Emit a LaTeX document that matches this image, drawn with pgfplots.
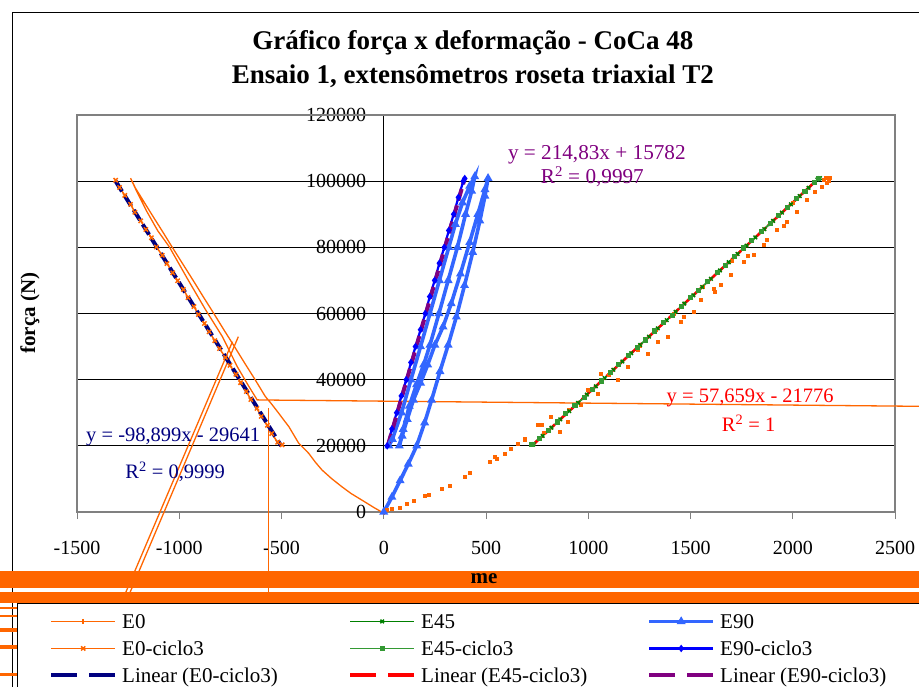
\documentclass[border=0pt]{standalone}
\usepackage{pgfplots}
\pgfplotsset{compat=1.18}
\usepackage{fontspec}
\setmainfont{Liberation Serif}

\definecolor{exorange}{RGB}{255,102,0}
\definecolor{exgreen}{RGB}{0,128,0}
\definecolor{exgreenb}{RGB}{51,153,51}
\definecolor{exlblue}{RGB}{51,102,255}
\definecolor{exblue}{RGB}{0,0,255}
\definecolor{exnavy}{RGB}{0,0,128}
\definecolor{expurple}{RGB}{128,0,128}
\definecolor{exred}{RGB}{255,0,0}
\definecolor{exgray}{RGB}{128,128,128}

\newcommand\legent[1]{\makebox[200pt][l]{\rmfamily\rule[-5pt]{0pt}{20pt}#1}}
\newcommand\eqfont{\rmfamily\fontsize{20.5}{22}\selectfont}
\pgfplotsset{trendleg/.style={legend image code/.code={\draw[##1, line width=4pt, dash pattern=on 26pt off 12pt] (0pt,0pt) -- (64pt,0pt);}}}

\begin{document}
\begin{tikzpicture}
\useasboundingbox (0pt,0pt) rectangle (919pt,-686pt);
\clip (0pt,0pt) rectangle (919pt,-686pt);
\fill[white] (0pt,0pt) rectangle (919pt,-686pt);
\draw[black, line width=1pt] (12pt,-12pt) rectangle (960pt,-720pt);
\begin{axis}[
  at={(77pt,-512pt)}, anchor=south west,
  width=818pt, height=397pt, scale only axis,
  xmin=-1500, xmax=2500, ymin=0, ymax=120000,
  clip=false,
  axis x line*=bottom, axis y line*=middle,
  x axis line style={exgray, line width=1.2pt},
  y axis line style={black, line width=1pt},
  xtick={-1500,-1000,-500,0,500,1000,1500,2000,2500},
  xticklabels={-1500,-1000,-500,0,500,1000,1500,2000,2500},
  ytick={0,20000,40000,60000,80000,100000,120000},
  yticklabels={0,20000,40000,60000,80000,100000,120000},
  scaled ticks=false,
  tick align=outside, major tick length=7pt,
  xtick style={exgray, line width=1pt},
  ytick style={black, line width=0.8pt},
  ymajorgrids, major grid style={black, line width=0.9pt},
  ticklabel style={font=\rmfamily\fontsize{20}{20}\selectfont},
  xticklabel style={yshift=-19pt},
  yticklabel style={xshift=-7pt},
  title={Gráfico força x deformação - CoCa 48\\Ensaio 1, extensômetros roseta triaxial T2},
  title style={at={(axis description cs:0.484,1.125)}, anchor=center, align=center,
    font=\rmfamily\fontsize{27}{34}\selectfont\bfseries},
  ylabel={força (N)},
  ylabel style={at={(axis description cs:-0.0575,0.501)}, anchor=center,
    font=\rmfamily\fontsize{21}{22}\selectfont\bfseries},
  xlabel={me},
  xlabel style={at={(axis description cs:0.4976,-0.1687)}, anchor=center,
    font=\rmfamily\fontsize{21}{22}\selectfont\bfseries},
  legend columns=3,
  legend style={at={(axis description cs:-0.07335,-0.2292)}, anchor=north west,
    draw=black, fill=white, inner xsep=32pt, inner ysep=8pt,
    font=\rmfamily\fontsize{21}{21}\selectfont, row sep=6.5pt,
    /tikz/every odd column/.append style={column sep=3pt},
    /tikz/every even column/.append style={column sep=24pt},
    cells={anchor=west}},
  legend image code/.code={\draw[mark repeat=2,mark phase=2,#1] plot coordinates {(0pt,0pt) (32pt,0pt) (64pt,0pt)};},
]
% plot area border
\draw[exgray, line width=1.5pt] (rel axis cs:0,0) rectangle (rel axis cs:1,1);

% --- stray E0 lines going out of range ---
\addplot[exorange, line width=1.3pt, forget plot] coordinates {(-711,53000) (-1266,-28000)};
\addplot[exorange, line width=1.3pt, forget plot] coordinates {(-740,51481) (-1287,-28000)};
\addplot[exorange, line width=1.3pt, forget plot] coordinates {(-562,31440) (-562,-28000)};
\addplot[exorange, line width=2pt, forget plot] coordinates {(-2000,-29020) (2800,-29020)};
\addplot[exorange, line width=2pt, forget plot] coordinates {(-2000,-31440) (2800,-31440)};
\addplot[exorange, line width=4pt, forget plot] coordinates {(-2000,-35520) (2800,-35520)};
\addplot[exorange, line width=4pt, forget plot] coordinates {(-2000,-40810) (2800,-40810)};
\addplot[exorange, line width=3pt, forget plot] coordinates {(-2000,-48970) (2800,-48970)};
\addplot[exorange, line width=17pt, forget plot] coordinates {(-2000,-20405) (2800,-20405)};
\addplot[exorange, line width=11pt, forget plot] coordinates {(-2000,-25847) (2800,-25847)};

% --- orange points on the right side ---
\addplot[only marks, mark=square*, mark size=1.5pt, exorange, forget plot] coordinates {
(15,605) (39,1110) (80,1411) (112,2418) (145,3420) (201,4837) (218,5340) (283,7155) (323,7860)
(396,10680) (420,11890) (518,15220) (550,16230) (591,17740) (623,19250) (656,20770) (688,21970)
(542,16720) (688,22280) (753,26300) (770,26300) (818,28810) (859,24280) (900,27300) (964,32350)
(997,36880) (1046,35880) (1062,41930) (1143,39900) (1192,43920) (1241,48970) (1289,47970)
(1338,51480) (1387,53000) (1452,57530) (1468,59040) (1516,60550) (1549,64090) (1614,67620)
(1646,68620) (1695,71650) (1760,75670) (1809,77690) (1857,80710) (1874,82220) (1923,85250)
(1971,87760) (2020,90780) (2069,94320) (2109,96830) (2150,100360) (2174,100870)
(780,24000) (850,27500) (905,31000) (1100,41500) (1250,50300) (1330,55000) (1420,60000)
(1560,68000) (1700,76000) (1850,85000) (2000,93500) (2160,101000) (2175,100200) (2165,99500)
(2180,101200) (2140,98200) (1955,86400) (1780,77600) (1620,66600)};

% --- E0 ---
\addplot[exorange, line width=1.3pt, mark=|, mark size=2.5pt, mark options={solid, line width=1.5pt}, mark repeat=500] coordinates {
(0,0) (-10,0) (-44,1200) (-107,3600) (-160,5600) (-205,7650) (-255,10100) (-302,12700)
(-335,15100) (-367,17750) (-392,19300) (-416,20800) (-440,23300) (-464,25800) (-490,27900)
(-513,29800) (-548,32600) (-580,35000) (-629,40000) (-680,45000) (-730,50000) (-781,55000)
(-831,60000) (-882,65000) (-932,70000) (-983,75000) (-1034,80000) (-1084,85000) (-1135,90000)
(-1185,95000) (-1215,98000) (-1238,100900) (-1226,99300) (-1211,97300) (-1160,91000)
(-1105,85000) (-1049,80200) (-960,70500) (-870,61000) (-789,53000) (-716,43900) (-660,38000)
(-619,33900) (-594,33860) (2700,31900)};
\addlegendentry{\legent{E0}}

% --- E45 ---
\addplot[exgreen, line width=1.5pt, mark=x, mark size=2.5pt, mark options={solid}] coordinates {
(733,20500) (777,23000) (820,25500) (863,28000) (907,30500) (950,33000) (993,35500) (1037,38000)
(1080,40500) (1123,43000) (1167,45500) (1210,48000) (1254,50500) (1297,53000) (1340,55500)
(1384,58000) (1427,60500) (1470,63000) (1514,65500) (1557,68000) (1600,70500) (1644,73000)
(1687,75500) (1730,78000) (1774,80500) (1817,83000) (1861,85500) (1904,88000) (1947,90500)
(1991,93000) (2034,95500) (2077,98000) (2121,100500) (2133,100900)};
\addlegendentry{\legent{E45}}

% --- E90 ---
\addplot[exlblue, line width=3.6pt, mark=triangle*, mark size=1.6pt, mark options={solid}] coordinates {
(0,0) (40,4500) (80,9500) (120,14500) (161,20000) (200,27000) (234,33860) (275,42500) (315,50480)
(355,59000) (395,68500) (435,78500) (470,88000) (495,95500) (510,100870)
(495,97500) (460,90000) (420,81500) (375,72000) (330,63000) (290,56000) (250,50480) (215,44500)
(180,39000) (145,33860) (115,28000) (90,23000) (76,20000)
(95,25000) (125,32000) (160,38500) (195,44500) (226,50480) (270,60000) (315,70000) (360,80000)
(400,90000) (430,97000) (445,101370)
(420,98500) (385,93500) (350,87000) (318,80000) (272,70000) (226,60000) (180,50000) (133,40000)
(87,30000) (42,22000) (25,20000)};
\addlegendentry{\legent{E90}}

% --- E0-ciclo3 ---
\addplot[exorange, line width=1.5pt, mark=x, mark size=3pt, mark options={solid}] coordinates {
(-1311,100300) (-1292,98100) (-1266,95700) (-1238,93000) (-1217,90600) (-1188,88000) (-1163,85400)
(-1136,82900) (-1112,80100) (-1083,77600) (-1060,75100) (-1032,72300) (-1008,69900) (-980,67300)
(-957,64800) (-928,62100) (-906,59700) (-877,57000) (-854,54500) (-826,51800) (-803,49400)
(-774,46700) (-752,44300) (-723,41600) (-700,39100) (-672,36400) (-650,34000) (-620,31300)
(-599,28900) (-569,26200) (-548,23700) (-519,21100) (-497,20300)};
\addlegendentry{\legent{E0-ciclo3}}

% --- E45-ciclo3 ---
\addplot[exgreenb, line width=1.5pt, mark=square*, mark size=1.8pt, mark options={solid}] coordinates {
(725,20300) (760,22300) (805,24700) (850,27200) (890,29700) (935,32100) (980,34700) (1020,37000)
(1065,39600) (1110,42200) (1150,44500) (1195,47200) (1240,49700) (1280,52000) (1325,54700)
(1370,57300) (1410,59500) (1455,62200) (1500,64800) (1540,67000) (1585,69700) (1630,72300)
(1670,74500) (1715,77200) (1760,79800) (1800,82000) (1845,84700) (1890,87300) (1930,89500)
(1975,92100) (2020,94700) (2060,97000) (2105,99500) (2125,100700)};
\addlegendentry{\legent{E45-ciclo3}}

% --- E90-ciclo3 ---
\addplot[exblue, line width=2.2pt, mark=diamond*, mark size=2pt, mark options={solid}] coordinates {
(17,20000) (40,25100) (63,30000) (86,35100) (110,40000) (133,45200) (155,50000) (180,55100)
(203,60000) (225,65100) (249,70000) (272,75200) (296,80000) (318,85100) (342,90000) (365,95100)
(389,100000) (396,100800)};
\addlegendentry{\legent{E90-ciclo3}}

% --- linear trends ---
\addplot[exnavy, line width=4pt, dash pattern=on 12pt off 5pt, trendleg]
  coordinates {(-1311,100000) (-502,20000)};
\addlegendentry{\legent{Linear (E0-ciclo3)}}
\addplot[exred, line width=2.6pt, dash pattern=on 14pt off 3pt, trendleg]
  coordinates {(725,20027) (2125,100749)};
\addlegendentry{\legent{Linear (E45-ciclo3)}}
\addplot[expurple, line width=4pt, dash pattern=on 12pt off 5pt, trendleg]
  coordinates {(20,20079) (397,101069)};
\addlegendentry{\legent{Linear (E90-ciclo3)}}

% --- y tick label at the origin (hidden by pgfplots on a middle axis) ---
\node[anchor=east, font=\rmfamily\fontsize{20}{20}\selectfont, xshift=-14pt] at (axis cs:0,0) {0};

% --- trendline equations ---
\node[font=\rmfamily\fontsize{21.2}{22}\selectfont, text=expurple] at (axis cs:1042,107900) {y = 214,83x + 15782};
\node[font=\rmfamily\fontsize{21.2}{22}\selectfont, text=expurple] at (axis cs:1020,101300) {R\textsuperscript{2} = 0,9997};
\node[font=\eqfont, text=exnavy] at (axis cs:-1030,22760) {y = -98,899x - 29641};
\node[font=\eqfont, text=exnavy] at (axis cs:-1020,12180) {R\textsuperscript{2} = 0,9999};
\node[font=\eqfont, text=exred] at (axis cs:1792,34370) {y = 57,659x - 21776};
\node[font=\eqfont, text=exred] at (axis cs:1784,26810) {R\textsuperscript{2} = 1};
\end{axis}
\end{tikzpicture}
\end{document}
